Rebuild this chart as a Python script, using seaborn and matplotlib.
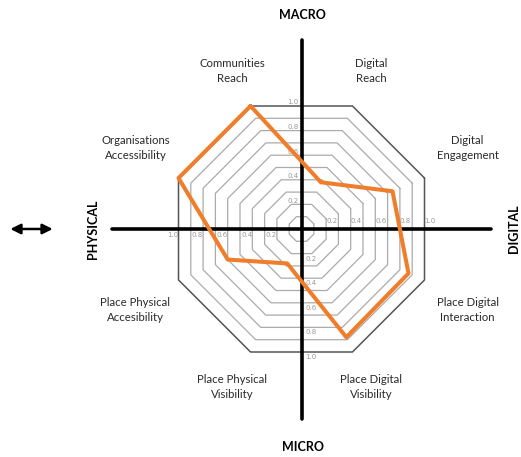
import numpy as np
import pandas as pd
import matplotlib
matplotlib.use("Agg")
import matplotlib.pyplot as plt
import seaborn as sns

# Chart data
categories = [
    "Communities\nReach",
    "Digital\nReach",
    "Digital\nEngagement",
    "Place Digital\nInteraction",
    "Place Digital\nVisibility",
    "Place Physical\nVisibility",
    "Place Physical\nAccesibility",
    "Organisations\nAccessibility",
]
angles_deg = [112.5, 67.5, 22.5, -22.5, -67.5, -112.5, -157.5, 157.5]
scores = [1.0, 0.38, 0.74, 0.87, 0.88, 0.28, 0.60, 1.0]
ring_levels = [0.1, 0.2, 0.3, 0.4, 0.5, 0.6, 0.7, 0.8, 0.9, 1.0]
tick_levels = [0.2, 0.4, 0.6, 0.8, 1.0]
tick_labels = ["0.2", "0.4", "0.6", "0.8", "1.0"]

sns.set_theme(style="white")
plt.rcParams["font.family"] = ["Lato", "DejaVu Sans"]

# pixel layout: centre of the octagon and size of one unit (apothem of ring 1.0)
W, H = 521, 457
cx, cy, unit = 301.5, 229, 123.0

fig = plt.figure(figsize=(W / 100, H / 100), dpi=100)
ax = fig.add_axes([0, 0, 1, 1])
ax.set_xlim(-cx / unit, (W - cx) / unit)
ax.set_ylim((cy - H) / unit, cy / unit)
ax.axis("off")

vert = 1 / np.cos(np.radians(22.5))  # vertex distance for apothem 1
oct_ang = np.radians(np.arange(22.5, 22.5 + 360 + 1, 45))

# octagon rings
for lvl in ring_levels:
    xs = lvl * vert * np.cos(oct_ang)
    ys = lvl * vert * np.sin(oct_ang)
    if lvl == 1.0:
        ax.plot(xs, ys, color="#555555", lw=1.1, zorder=2)
    else:
        ax.plot(xs, ys, color="#ababab", lw=0.9, zorder=1)

# main axes (cross)
ax.plot([-1.54, 1.54], [0, 0], color="black", lw=2.6, zorder=3)
ax.plot([0, 0], [-1.545, 1.537], color="black", lw=2.6, zorder=3)

# tick labels on the four arms
tk = dict(fontsize=5, color="#9a9a9a", ha="center", va="center", zorder=4,
          family="DejaVu Sans")
for v, t in zip(tick_levels, tick_labels):
    ax.text(v + 0.045, 0.065, t, **tk)
    ax.text(-v - 0.045, -0.05, t, **tk)
    ax.text(-0.07, v + 0.03, t, **tk)
    ax.text(0.077, -v - 0.04, t, **tk)

# data polygon
rad = np.radians(angles_deg)
df = pd.DataFrame({
    "x": [s * vert * np.cos(a) for s, a in zip(scores, rad)],
    "y": [s * vert * np.sin(a) for s, a in zip(scores, rad)],
})
df = pd.concat([df, df.iloc[[0]]], ignore_index=True)
sns.lineplot(data=df, x="x", y="y", sort=False, estimator=None,
             color="#ef7d2a", lw=2.9, ax=ax, zorder=5)
ax.set_xlabel("")
ax.set_ylabel("")

# category labels
for lab, a in zip(categories, rad):
    c, s = np.cos(a), np.sin(a)
    if abs(c) > 0.7:
        lx, ly = np.sign(c) * 1.35, np.sign(s) * 0.66
    else:
        lx, ly = np.sign(c) * 0.565, np.sign(s) * 1.285
    ax.text(lx, ly, lab, fontsize=8.2, color="#2a2a2a", ha="center",
            va="center", linespacing=1.45)

# side titles
bold = dict(fontsize=9, fontweight="bold", color="black", ha="center", va="center")
ax.text(0.01, 1.74, "MACRO", **bold)
ax.text(0.01, -1.772, "MICRO", **bold)
ax.text(-1.695, 0.0, "PHYSICAL", rotation=90, **bold)
ax.text(1.728, 0.0, "DIGITAL", rotation=90, **bold)

# double arrow at far left
ax.annotate("", xy=(-2.39, 0.0), xytext=(-2.0, 0.0),
            arrowprops=dict(arrowstyle="<|-|>", color="black", lw=1.8,
                            mutation_scale=15))

fig.savefig("out.png", dpi=100)
